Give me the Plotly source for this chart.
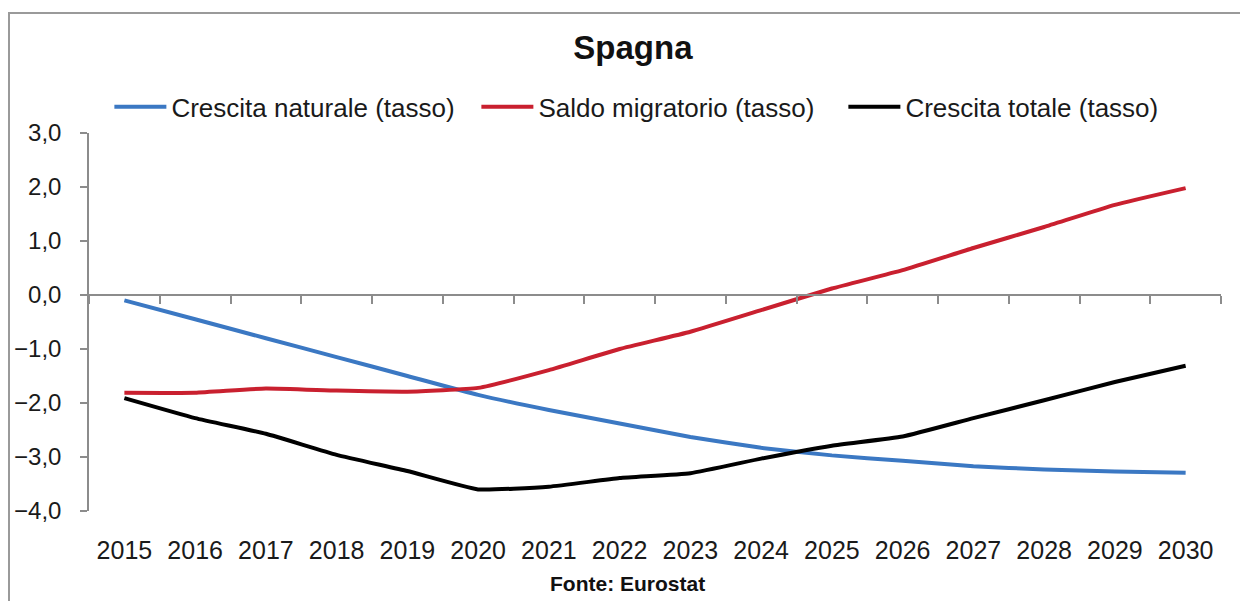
import plotly.graph_objects as go

years = list(range(2015, 2031))
crescita_naturale = [-0.10, -0.45, -0.80, -1.15, -1.50, -1.85, -2.13, -2.38, -2.63, -2.83,
                     -2.97, -3.07, -3.17, -3.23, -3.27, -3.29]
saldo_migratorio = [-1.81, -1.81, -1.73, -1.77, -1.79, -1.72, -1.39, -1.00, -0.68, -0.28,
                    0.12, 0.46, 0.87, 1.26, 1.67, 1.98]
crescita_totale = [-1.91, -2.28, -2.57, -2.96, -3.26, -3.60, -3.55, -3.39, -3.30, -3.03,
                   -2.79, -2.62, -2.28, -1.95, -1.61, -1.31]
boundaries = [y - 0.5 for y in years] + [years[-1] + 0.5]

FONT = "Liberation Sans"

fig = go.Figure()

series = [
    ("Crescita naturale (tasso)", crescita_naturale, "#3b78c3"),
    ("Saldo migratorio (tasso)", saldo_migratorio, "#c9202f"),
    ("Crescita totale (tasso)", crescita_totale, "#000000"),
]
for name, vals, color in series:
    fig.add_trace(go.Scatter(
        x=years, y=vals, name=name, mode="lines",
        line=dict(color=color, width=4, shape="spline", smoothing=0.4),
    ))

# axis line at zero with ticks between categories
fig.add_trace(go.Scatter(x=[years[0]], y=[None], xaxis="x2", showlegend=False,
                         hoverinfo="skip"))

# the page body adds an 8px offset, so the figure is 8px smaller
fig.update_layout(
    width=1240, height=593,
    margin=dict(l=81, r=27, t=125, b=90, autoexpand=False),
    paper_bgcolor="white", plot_bgcolor="white",
    separators=",.",
    font=dict(family=FONT, size=24, color="#1a1a1a"),
    title=dict(text="<b>Spagna</b>", x=0.504, xanchor="center", y=0.934, yanchor="middle",
               font=dict(family=FONT, size=33, color="#111")),
    legend=dict(orientation="h", x=0.018, xanchor="left", y=1.069, yanchor="middle",
                font=dict(family=FONT, size=26, color="#1a1a1a"),
                itemwidth=52, entrywidth=300, entrywidthmode="pixels",
                bgcolor="rgba(0,0,0,0)"),
    xaxis=dict(range=[2014.5, 2030.5], tickvals=years, ticks="", showline=False,
               showgrid=False, zeroline=False, ticklabelstandoff=22,
               tickfont=dict(family=FONT, size=25, color="#1a1a1a")),
    xaxis2=dict(overlaying="x", anchor="free", position=4 / 7, side="bottom",
                range=[2014.5, 2030.5], tickvals=boundaries, showticklabels=False,
                ticks="outside", ticklen=8, tickwidth=1.5, tickcolor="#8c8c8c",
                showline=True, linecolor="#8c8c8c", linewidth=1.5, showgrid=False,
                zeroline=False),
    yaxis=dict(range=[-4, 3], dtick=1, tickformat=".1f", showgrid=False, zeroline=False,
               showline=True, linecolor="#8c8c8c", linewidth=1.5, ticks="outside",
               ticklen=7, tickwidth=1.5, tickcolor="#8c8c8c", ticklabelstandoff=14,
               tickfont=dict(family=FONT, size=24, color="#1a1a1a")),
)

fig.add_shape(type="rect", xref="paper", yref="paper",
              x0=(9 - 89) / 1132, x1=(1245 - 89) / 1132,
              y0=-0.4, y1=(511 - 13) / 378,
              line=dict(color="#9a9a9a", width=2), fillcolor="rgba(0,0,0,0)")

fig.add_annotation(text="<b>Fonte: Eurostat</b>", xref="paper", yref="paper",
                   x=(627 - 89) / 1132, y=(511 - 583) / 378, showarrow=False,
                   xanchor="center", yanchor="middle",
                   font=dict(family=FONT, size=21, color="#111"))

fig.write_html("out.html")
